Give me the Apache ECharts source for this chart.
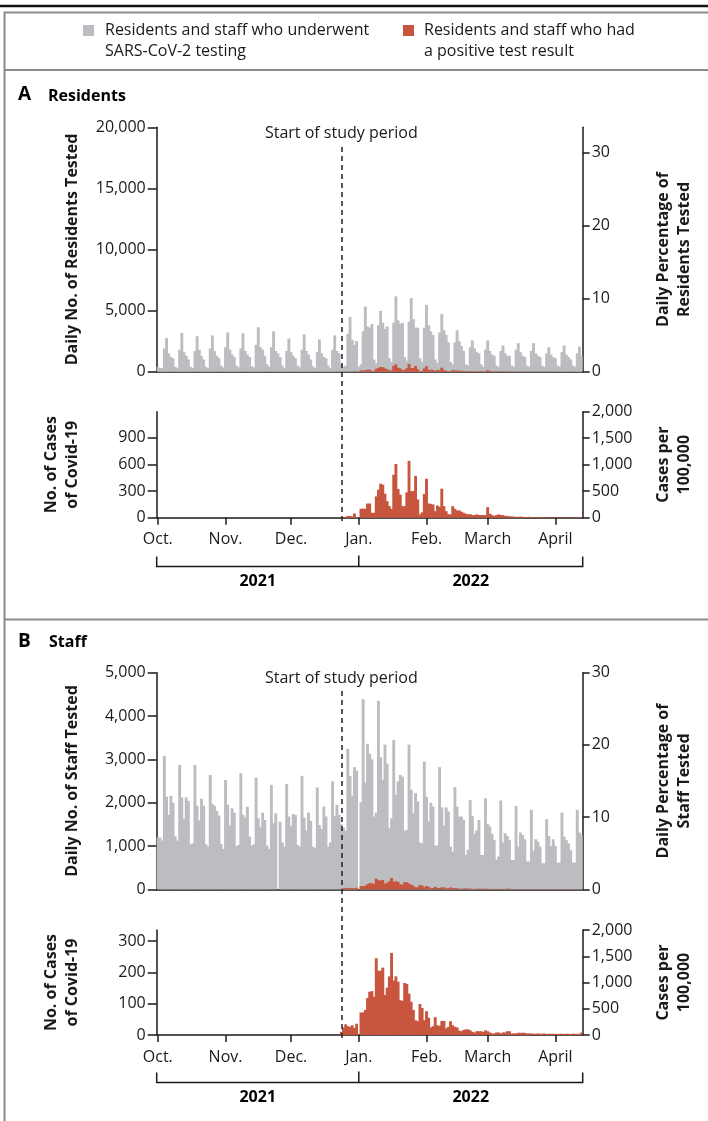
<!DOCTYPE html>
<html><head><meta charset="utf-8">
<script src="https://cdn.jsdelivr.net/npm/echarts@6/dist/echarts.min.js"></script>
<style>html,body{margin:0;padding:0;background:#fff;}#c{width:708px;height:1121px;}</style>
</head><body><div id="c"></div>
<script>
// ---------- DATA ----------
const firstDay = [2021, 9, 1];   // 1 Oct 2021
const nDays = 195;                // through 13 Apr 2022
const monthLabels = {'10':'Oct.','11':'Nov.','12':'Dec.','01':'Jan.','02':'Feb.','03':'March','04':'April'};
const yearLabels = ['2021', '2022'];
const studyStart = '2021-12-24';
const legendLabels = ['Residents and staff who underwent\nSARS-CoV-2 testing', 'Residents and staff who had\na positive test result'];

const residentsTested = [
 400,300,300,1900,2750,1500,1200,
 1100,400,300,1800,3170,1600,1300,
 1000,400,300,1700,2900,1800,1300,
 1000,400,300,1900,2970,1700,1300,
 1100,500,350,2000,3220,1800,1400,
 1200,500,350,1900,3140,1700,1400,
 1200,450,350,2200,3640,2000,1800,
 1300,600,400,2000,3300,1700,1500,
 1200,500,300,1700,2720,1600,1300,
 1100,500,350,1800,3060,1700,1400,
 1000,450,300,1600,2640,1500,1200,
 1100,500,300,1800,2970,1700,1500,
 600,400,500,3100,4480,2600,2200,
 2500,400,600,3300,5340,3700,3600,
 3900,1000,700,3800,4980,4000,3500,
 3700,1100,800,4000,6170,4200,3900,
 4000,1200,900,4100,6030,4300,3600,
 3600,1100,800,3600,5480,3800,3300,
 3000,1000,700,3200,4730,3400,3000,
 2400,800,600,2400,3390,2500,2100,
 1700,600,500,2000,2560,1900,1600,
 1500,600,400,1800,2560,1700,1400,
 1300,500,400,1700,2140,1500,1300,
 1300,500,400,1800,2340,1600,1300,
 1200,500,400,1700,2340,1500,1300,
 1200,500,400,1500,2000,1400,1200,
 1100,500,400,1600,2140,1400,1200,
 1000,500,400,1500,2060,1300
];
const residentsCases = [
 0,0,0,0,0,0,0, 0,0,0,0,0,0,0, 0,0,0,0,0,0,0, 0,0,0,0,0,0,0,
 0,0,0,0,0,0,0, 0,0,0,0,0,0,0, 0,0,0,0,0,0,0, 0,0,0,0,0,0,0,
 0,0,0,0,0,0,0, 0,0,0,0,0,0,0, 0,0,0,0,0,0,0, 0,0,0,0,0,0,0,
 5,5,10,20,20,15,48,
 5,3,100,104,100,160,160,
 55,55,240,316,383,372,270,
 186,130,100,484,606,324,260,
 130,130,286,640,300,300,472,
 205,37,60,268,439,160,156,
 149,74,138,123,327,130,74,
 40,37,130,100,82,82,67,
 56,45,37,40,30,30,37,
 30,30,30,30,119,45,30,
 19,30,37,30,30,20,20,
 15,15,12,10,10,12,10,
 8,8,10,8,6,6,8,
 6,5,5,6,5,5,4,
 4,5,4,4,3,4,4,
 4,3,4,3,4,5
];
const staffTested = [
 1200,1190,1125,3080,2140,1720,2160,
 2000,1220,1125,2870,2120,1620,2120,
 2040,1040,1060,2870,1930,1590,2090,
 1930,1040,985,2640,1970,1925,1810,
 1700,1047,932,2525,1950,1470,1870,
 1770,1000,1025,2680,1720,1655,1910,
 1217,1010,1040,2580,1640,1430,1770,
 1600,1010,932,2410,1525,1755,0,
 1560,1080,985,2430,1680,1460,1740,
 1715,1025,985,2620,1655,1355,1770,
 1580,985,947,2350,1485,1390,1910,
 1680,985,1080,2490,1695,1950,1715,
 1500,1425,1350,3240,2620,2160,2820,
 2740,0,2010,4390,2465,3360,3130,
 3000,1680,1770,4350,3050,2530,3340,
 2900,1410,1640,3450,2180,2490,2640,
 2600,1355,1370,3340,2300,1755,2220,
 2030,1080,1060,2950,2140,1565,2000,
 1910,1010,1010,2820,1890,1470,1890,
 1795,985,870,2360,1910,1680,1680,
 1600,793,910,2065,1695,1280,1355,
 1600,793,793,2100,1510,1450,1280,
 1140,678,755,2050,1080,1295,1230,
 1140,678,678,1925,985,1310,1255,
 1155,640,640,1835,893,1155,1100,
 985,600,600,1620,1230,1000,1155,
 1000,616,616,1770,1215,1140,1060,
 900,616,616,1835,1310,1250
];
const staffCases = [
 0,0,0,0,0,0,0, 0,0,0,0,0,0,0, 0,0,0,0,0,0,0, 0,0,0,0,0,0,0,
 0,0,0,0,0,0,0, 0,0,0,0,0,0,0, 0,0,0,0,0,0,0, 0,0,0,0,0,0,0,
 0,0,0,0,0,0,0, 0,0,0,0,0,0,0, 0,0,0,0,0,0,0, 0,0,0,0,0,0,0,
 10,24,34,28,26,31,23,
 36,0,72,72,80,118,138,
 140,122,245,205,205,215,128,
 151,187,262,174,187,170,111,
 109,166,163,132,106,80,47,
 44,99,86,47,76,55,24,
 28,57,31,29,45,45,21,
 26,44,31,26,24,14,12,
 16,18,18,15,10,8,12,
 12,12,10,15,12,8,5,
 5,8,8,5,8,8,12,
 12,5,5,5,7,7,7,
 7,5,5,5,4,4,5,
 4,4,5,3,4,4,4,
 4,3,4,4,3,4,4,
 3,4,4,3,4,8
];
const resTestedTicks = [0, 5000, 10000, 15000, 20000];
const resPctTicks = [0, 10, 20, 30];
const resCaseTicks = [0, 300, 600, 900];
const staffTestedTicks = [0, 1000, 2000, 3000, 4000, 5000];
const staffPctTicks = [0, 10, 20, 30];
const staffCaseTicks = [0, 100, 200, 300];
const per100kTicks = [0, 500, 1000, 1500, 2000];

// ---------- CHART ----------
const dates = [];
for (let i = 0; i < nDays; i++) {
  const d = new Date(Date.UTC(firstDay[0], firstDay[1], firstDay[2] + i));
  dates.push(d.toISOString().slice(0, 10));
}
const FONT = '"Open Sans", "Noto Sans", sans-serif';
const TXT = '#1a1a1a';
const GRAY = '#bcbdc0';
const RED = '#c8553d';
const fmt = v => Number(v).toLocaleString('en-US');
const isMonthStart = (i, v) => v.slice(8, 10) === '01';

const L = 156.7, W = 426;
const grids = [
  {left: L, width: W, top: 127.3, height: 244.4},
  {left: L, width: W, top: 411.7, height: 106},
  {left: L, width: W, top: 672.7, height: 216.6},
  {left: L, width: W, top: 930, height: 105},
  {left: L, width: W, top: 145, height: 376},
  {left: L, width: W, top: 690, height: 348}
];

function xAx(g, withLabels, hidden) {
  return {
    type: 'category', gridIndex: g, data: dates, boundaryGap: true, show: !hidden,
    axisLine: {show: true, onZero: false, lineStyle: {color: TXT, width: 1.5}},
    axisTick: {show: withLabels, alignWithLabel: true, length: 7, interval: isMonthStart, lineStyle: {color: TXT, width: 1.5}},
    axisLabel: {show: withLabels, interval: isMonthStart, formatter: v => monthLabels[v.slice(5, 7)],
      fontFamily: FONT, fontSize: 16, color: TXT, margin: 14},
    splitLine: {show: false}
  };
}
function yAx(g, pos, max, ticks, name, gap) {
  const left = pos === 'left';
  return {
    type: 'value', gridIndex: g, position: pos, min: 0, max: max,
    axisLine: {show: true, onZero: false, lineStyle: {color: TXT, width: 1.5}},
    axisTick: {show: true, length: left ? 9 : 7, customValues: ticks, lineStyle: {color: TXT, width: 1.5}},
    axisLabel: {customValues: ticks, formatter: fmt, fontFamily: FONT, fontSize: 16, color: TXT, margin: left ? 11 : 9},
    splitLine: {show: false},
    name: name, nameLocation: 'middle', nameRotate: 90, nameGap: gap,
    nameTextStyle: {fontFamily: FONT, fontSize: 16, fontWeight: 'bold', color: TXT, lineHeight: 21}
  };
}
function bars(xi, yi, data, color, overlay) {
  const s = {type: 'bar', xAxisIndex: xi, yAxisIndex: yi, data: data, silent: true,
    itemStyle: {color: color}, barWidth: 2.9};
  if (overlay) s.barGap = '-100%';
  return s;
}
function studyLine(xi, yi) {
  return {type: 'line', xAxisIndex: xi, yAxisIndex: yi, data: [], silent: true, z: 5,
    markLine: {silent: true, symbol: ['none', 'none'], animation: false,
      lineStyle: {color: '#222', width: 1.5, type: [5, 4]},
      label: {show: true, position: 'end', formatter: 'Start of study period', fontFamily: FONT, fontSize: 16, color: TXT, distance: 4},
      data: [{xAxis: studyStart}]}};
}

const option = {
  animation: false,
  backgroundColor: '#fff',
  textStyle: {fontFamily: FONT},
  grid: grids,
  xAxis: [xAx(0, false), xAx(1, true), xAx(2, false), xAx(3, true), xAx(4, false, true), xAx(5, false, true)],
  yAxis: [
    yAx(0, 'left', 20000, resTestedTicks, 'Daily No. of Residents Tested', 74),
    yAx(0, 'right', 33.5, resPctTicks, 'Daily Percentage of\nResidents Tested', 70),
    yAx(1, 'left', 1195, resCaseTicks, 'No. of Cases\nof Covid-19', 74),
    yAx(1, 'right', 2000, per100kTicks, 'Cases per\n100,000', 70),
    yAx(2, 'left', 5000, staffTestedTicks, 'Daily No. of Staff Tested', 74),
    yAx(2, 'right', 30, staffPctTicks, 'Daily Percentage of\nStaff Tested', 70),
    yAx(3, 'left', 335, staffCaseTicks, 'No. of Cases\nof Covid-19', 74),
    yAx(3, 'right', 2000, per100kTicks, 'Cases per\n100,000', 70),
    {type: 'value', gridIndex: 4, show: false, min: 0, max: 1},
    {type: 'value', gridIndex: 5, show: false, min: 0, max: 1}
  ],
  series: [
    Object.assign(bars(0, 0, residentsTested, GRAY, true), {name: legendLabels[0]}),
    Object.assign(bars(0, 0, residentsCases, RED, true), {name: legendLabels[1]}),
    Object.assign(bars(1, 2, residentsCases, RED, false), {name: legendLabels[1]}),
    Object.assign(bars(2, 4, staffTested, GRAY, true), {name: legendLabels[0]}),
    Object.assign(bars(2, 4, staffCases, RED, true), {name: legendLabels[1]}),
    Object.assign(bars(3, 6, staffCases, RED, false), {name: legendLabels[1]}),
    studyLine(4, 8),
    studyLine(5, 9)
  ]
};
const chart = echarts.init(document.getElementById('c'), null, {renderer: 'canvas'});
chart.setOption(option);

// ---------- decorations (frame, legend, panel titles, year brackets) ----------
const G = [];
G.push({type: 'line', shape: {x1: 0, y1: 6, x2: 708, y2: 6}, style: {stroke: '#111', lineWidth: 2.5}});
G.push({type: 'rect', shape: {x: 4.5, y: 12.5, width: 720, height: 1130}, style: {fill: null, stroke: '#8a8a8a', lineWidth: 2}});
G.push({type: 'line', shape: {x1: 4.5, y1: 70, x2: 708, y2: 70}, style: {stroke: '#8a8a8a', lineWidth: 2}});
G.push({type: 'line', shape: {x1: 4.5, y1: 619.5, x2: 708, y2: 619.5}, style: {stroke: '#8a8a8a', lineWidth: 2}});
// legend
G.push({type: 'rect', shape: {x: 83, y: 25, width: 11, height: 11}, style: {fill: GRAY}});
G.push({type: 'text', x: 105, y: 20, style: {text: legendLabels[0], font: '16px ' + FONT, fill: TXT, lineHeight: 21, verticalAlign: 'top'}});
G.push({type: 'rect', shape: {x: 403, y: 25, width: 11, height: 11}, style: {fill: RED}});
G.push({type: 'text', x: 424, y: 20, style: {text: legendLabels[1], font: '16px ' + FONT, fill: TXT, lineHeight: 21, verticalAlign: 'top'}});
// panel titles
G.push({type: 'text', x: 18, y: 95, style: {text: 'A', font: 'bold 19px ' + FONT, fill: '#000', verticalAlign: 'middle'}});
G.push({type: 'text', x: 48, y: 96, style: {text: 'Residents', font: 'bold 16px ' + FONT, fill: '#000', verticalAlign: 'middle'}});
G.push({type: 'text', x: 18, y: 641.5, style: {text: 'B', font: 'bold 19px ' + FONT, fill: '#000', verticalAlign: 'middle'}});
G.push({type: 'text', x: 49, y: 642.5, style: {text: 'Staff', font: 'bold 16px ' + FONT, fill: '#000', verticalAlign: 'middle'}});
// year brackets under both case panels
const janIdx = dates.indexOf('2022-01-01');
[[1, 566.5], [3, 1082.5]].forEach(([ax, yb]) => {
  const c0 = chart.convertToPixel({xAxisIndex: ax}, dates[0]);
  const c1 = chart.convertToPixel({xAxisIndex: ax}, dates[1]);
  const bw = c1 - c0;
  const xl = c0 - bw / 2;
  const xr = chart.convertToPixel({xAxisIndex: ax}, dates[nDays - 1]) + bw / 2;
  const xj = chart.convertToPixel({xAxisIndex: ax}, dates[janIdx]);
  const st = {stroke: TXT, lineWidth: 1.5};
  G.push({type: 'polyline', shape: {points: [[xl, yb - 10], [xl, yb], [xr, yb], [xr, yb - 10]]}, style: Object.assign({fill: null}, st)});
  G.push({type: 'line', shape: {x1: xj, y1: yb - 11, x2: xj, y2: yb}, style: st});
  G.push({type: 'text', x: (xl + xj) / 2, y: yb + 15, style: {text: yearLabels[0], font: 'bold 16px ' + FONT, fill: '#000', align: 'center', verticalAlign: 'middle'}});
  G.push({type: 'text', x: (xj + xr) / 2, y: yb + 15, style: {text: yearLabels[1], font: 'bold 16px ' + FONT, fill: '#000', align: 'center', verticalAlign: 'middle'}});
});
chart.setOption({graphic: G});
</script>
</body></html>
